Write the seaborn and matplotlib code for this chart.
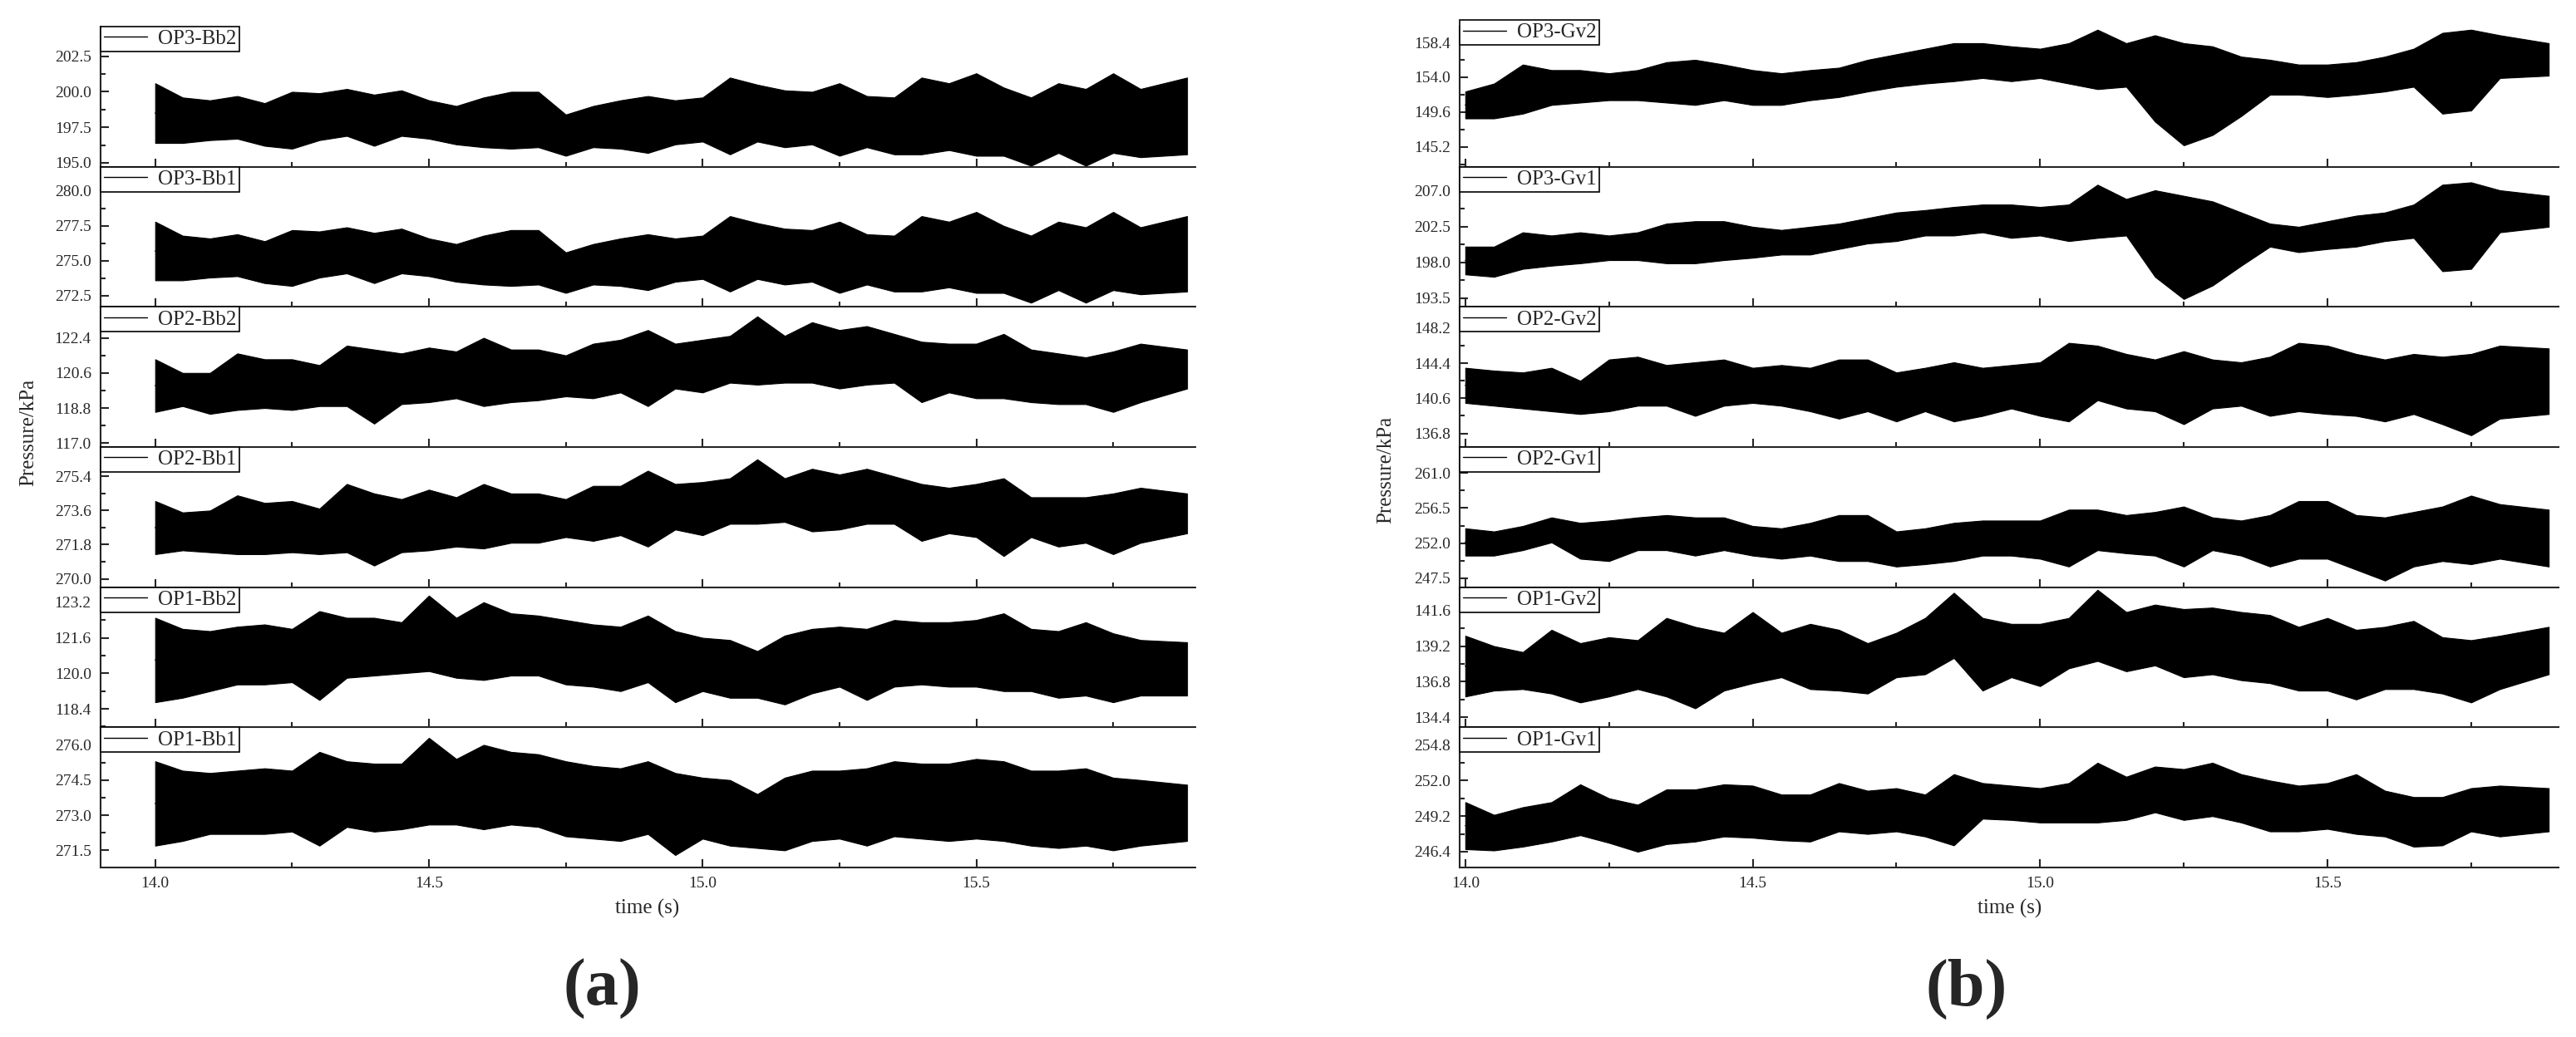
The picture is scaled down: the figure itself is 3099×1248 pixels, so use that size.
import numpy as np
import pandas as pd
import matplotlib
matplotlib.use("Agg")
import matplotlib.pyplot as plt
import seaborn as sns
from matplotlib.ticker import MultipleLocator, AutoMinorLocator, FormatStrFormatter

# times of the envelope readings (s)
time_s = np.append(np.round(np.arange(14.0, 15.81, 0.05), 2), 15.885)

# ---- panel (a): upper / lower envelope of each trace, kPa ----
op3_bb2_hi = [200.6, 199.6, 199.4, 199.7, 199.2, 200.0, 199.9, 200.2, 199.8, 200.1,
              199.4, 199.0, 199.6, 200.0, 200.0, 198.4, 199.0, 199.4, 199.7, 199.4,
              199.6, 201.0, 200.5, 200.1, 200.0, 200.6, 199.7, 199.6, 201.0, 200.6,
              201.3, 200.3, 199.6, 200.6, 200.2, 201.3, 200.2, 201.0]
op3_bb2_lo = [196.4, 196.4, 196.6, 196.7, 196.2, 196.0, 196.6, 196.9, 196.2, 196.9,
              196.7, 196.3, 196.1, 196.0, 196.1, 195.5, 196.1, 196.0, 195.7, 196.3,
              196.5, 195.6, 196.5, 196.1, 196.3, 195.5, 196.1, 195.6, 195.6, 195.9,
              195.5, 195.5, 194.8, 195.7, 194.8, 195.7, 195.4, 195.6]
op3_bb1_hi = [277.8, 276.8, 276.6, 276.9, 276.4, 277.2, 277.1, 277.4, 277.0, 277.3,
              276.6, 276.2, 276.8, 277.2, 277.2, 275.6, 276.2, 276.6, 276.9, 276.6,
              276.8, 278.2, 277.7, 277.3, 277.2, 277.8, 276.9, 276.8, 278.2, 277.8,
              278.5, 277.5, 276.8, 277.8, 277.4, 278.5, 277.4, 278.2]
op3_bb1_lo = [273.6, 273.6, 273.8, 273.9, 273.4, 273.2, 273.8, 274.1, 273.4, 274.1,
              273.9, 273.5, 273.3, 273.2, 273.3, 272.7, 273.3, 273.2, 272.9, 273.5,
              273.7, 272.8, 273.7, 273.3, 273.5, 272.7, 273.3, 272.8, 272.8, 273.1,
              272.7, 272.7, 272.0, 272.9, 272.0, 272.9, 272.6, 272.8]
op2_bb2_hi = [121.3, 120.6, 120.6, 121.6, 121.3, 121.3, 121.0, 122.0, 121.8, 121.6,
              121.9, 121.7, 122.4, 121.8, 121.8, 121.5, 122.1, 122.3, 122.8, 122.1,
              122.3, 122.5, 123.5, 122.5, 123.2, 122.8, 123.0, 122.6, 122.2, 122.1,
              122.1, 122.6, 121.8, 121.6, 121.4, 121.7, 122.1, 121.8]
op2_bb2_lo = [118.6, 118.9, 118.5, 118.7, 118.8, 118.7, 118.9, 118.9, 118.0, 119.0,
              119.1, 119.3, 118.9, 119.1, 119.2, 119.4, 119.3, 119.6, 118.9, 119.8,
              119.6, 120.1, 120.0, 120.1, 120.1, 119.8, 120.0, 120.1, 119.1, 119.6,
              119.3, 119.3, 119.1, 119.0, 119.0, 118.6, 119.1, 119.8]
op2_bb1_hi = [274.1, 273.5, 273.6, 274.4, 274.0, 274.1, 273.7, 275.0, 274.5, 274.2,
              274.7, 274.3, 275.0, 274.5, 274.5, 274.2, 274.9, 274.9, 275.7, 275.0,
              275.1, 275.3, 276.3, 275.3, 275.8, 275.5, 275.8, 275.4, 275.0, 274.8,
              275.0, 275.3, 274.3, 274.3, 274.3, 274.5, 274.8, 274.5]
op2_bb1_lo = [271.3, 271.5, 271.4, 271.3, 271.3, 271.4, 271.3, 271.4, 270.7, 271.4,
              271.5, 271.7, 271.6, 271.9, 271.9, 272.2, 272.0, 272.3, 271.7, 272.6,
              272.3, 272.9, 272.9, 273.0, 272.5, 272.6, 272.9, 272.9, 272.0, 272.4,
              272.2, 271.2, 272.2, 271.7, 271.9, 271.3, 271.9, 272.4]
op1_bb2_hi = [122.5, 122.0, 121.9, 122.1, 122.2, 122.0, 122.8, 122.5, 122.5, 122.3,
              123.5, 122.5, 123.2, 122.7, 122.6, 122.4, 122.2, 122.1, 122.6, 121.9,
              121.6, 121.5, 121.0, 121.7, 122.0, 122.1, 122.0, 122.4, 122.3, 122.3,
              122.4, 122.7, 122.0, 121.9, 122.3, 121.8, 121.5, 121.4]
op1_bb2_lo = [118.7, 118.9, 119.2, 119.5, 119.5, 119.6, 118.8, 119.8, 119.9, 120.0,
              120.1, 119.8, 119.7, 119.9, 119.9, 119.5, 119.4, 119.2, 119.6, 118.7,
              119.2, 118.9, 118.9, 118.6, 119.1, 119.4, 118.8, 119.4, 119.5, 119.4,
              119.4, 119.2, 119.2, 118.9, 119.0, 118.7, 119.0, 119.0]
op1_bb1_hi = [275.3, 274.9, 274.8, 274.9, 275.0, 274.9, 275.7, 275.3, 275.2, 275.2,
              276.3, 275.4, 276.0, 275.7, 275.6, 275.3, 275.1, 275.0, 275.3, 274.8,
              274.6, 274.5, 273.9, 274.6, 274.9, 274.9, 275.0, 275.3, 275.2, 275.2,
              275.4, 275.3, 274.9, 274.9, 275.0, 274.6, 274.5, 274.3]
op1_bb1_lo = [271.7, 271.9, 272.2, 272.2, 272.2, 272.3, 271.7, 272.5, 272.3, 272.4,
              272.6, 272.6, 272.4, 272.6, 272.5, 272.1, 272.0, 271.9, 272.2, 271.3,
              272.0, 271.7, 271.6, 271.5, 271.9, 272.0, 271.7, 272.1, 272.0, 271.9,
              272.0, 271.9, 271.7, 271.6, 271.7, 271.5, 271.7, 271.9]

# ---- panel (b) ----
op3_gv2_hi = [152.2, 153.2, 155.6, 154.9, 154.9, 154.5, 154.9, 155.9, 156.2, 155.6,
              154.9, 154.5, 154.9, 155.2, 156.2, 156.9, 157.6, 158.3, 158.3, 157.9,
              157.6, 158.3, 160.0, 158.3, 159.3, 158.3, 157.9, 156.6, 156.2, 155.6,
              155.6, 155.9, 156.6, 157.6, 159.6, 160.0, 159.3, 158.3]
op3_gv2_lo = [148.8, 148.8, 149.4, 150.5, 150.8, 151.1, 151.1, 150.8, 150.5, 151.1,
              150.5, 150.5, 151.1, 151.5, 152.2, 152.8, 153.2, 153.5, 153.9, 153.5,
              153.9, 153.2, 152.5, 152.8, 148.4, 145.4, 146.7, 149.1, 151.8, 151.8,
              151.5, 151.8, 152.2, 152.8, 149.4, 149.8, 153.9, 154.2]
op3_gv1_hi = [200.0, 200.0, 201.8, 201.4, 201.8, 201.4, 201.8, 202.9, 203.2, 203.2,
              202.5, 202.1, 202.5, 202.9, 203.6, 204.3, 204.6, 205.0, 205.3, 205.3,
              205.0, 205.3, 207.8, 206.0, 207.1, 206.4, 205.7, 204.3, 202.9, 202.5,
              203.2, 203.9, 204.3, 205.3, 207.8, 208.1, 207.1, 206.4]
op3_gv1_lo = [196.5, 196.2, 197.2, 197.6, 197.9, 198.3, 198.3, 197.9, 197.9, 198.3,
              198.6, 199.0, 199.0, 199.7, 200.4, 200.7, 201.4, 201.4, 201.8, 201.1,
              201.4, 200.7, 201.1, 201.4, 196.2, 193.4, 195.1, 197.6, 200.0, 199.3,
              199.7, 200.0, 200.7, 201.1, 196.9, 197.2, 201.8, 202.5]
op2_gv2_hi = [143.9, 143.6, 143.4, 143.9, 142.5, 144.8, 145.1, 144.2, 144.5, 144.8,
              143.9, 144.2, 143.9, 144.8, 144.8, 143.4, 143.9, 144.5, 143.9, 144.2,
              144.5, 146.6, 146.3, 145.4, 144.8, 145.7, 144.8, 144.5, 145.1, 146.6,
              146.3, 145.4, 144.8, 145.4, 145.1, 145.4, 146.3, 146.0]
op2_gv2_lo = [140.1, 139.8, 139.5, 139.2, 138.9, 139.2, 139.8, 139.8, 138.7, 139.8,
              140.1, 139.8, 139.2, 138.4, 139.2, 138.1, 139.2, 138.1, 138.7, 139.5,
              138.7, 138.1, 140.4, 139.5, 139.2, 137.8, 139.5, 139.8, 138.7, 139.2,
              138.9, 138.7, 138.1, 138.9, 137.8, 136.6, 138.4, 138.9]
op2_gv1_hi = [253.9, 253.5, 254.2, 255.3, 254.6, 254.9, 255.3, 255.6, 255.3, 255.3,
              254.2, 253.9, 254.6, 255.6, 255.6, 253.5, 253.9, 254.6, 254.9, 254.9,
              254.9, 256.3, 256.3, 255.6, 256.0, 256.7, 255.3, 254.9, 255.6, 257.4,
              257.4, 255.6, 255.3, 256.0, 256.7, 258.1, 257.0, 256.3]
op2_gv1_lo = [250.4, 250.4, 251.1, 252.1, 250.0, 249.7, 251.1, 251.1, 250.4, 251.1,
              250.4, 250.0, 250.4, 249.7, 249.7, 249.0, 249.3, 249.7, 250.4, 250.4,
              250.0, 249.0, 251.1, 250.7, 250.4, 249.0, 251.1, 250.4, 249.0, 250.0,
              250.0, 248.6, 247.2, 249.0, 249.7, 249.3, 250.0, 249.0]
op1_gv2_hi = [139.9, 139.2, 138.8, 140.3, 139.4, 139.8, 139.6, 141.1, 140.5, 140.1,
              141.5, 140.1, 140.7, 140.3, 139.4, 140.1, 141.1, 142.8, 141.1, 140.7,
              140.7, 141.1, 143.0, 141.5, 142.0, 141.7, 141.8, 141.5, 141.3, 140.5,
              141.1, 140.3, 140.5, 140.9, 139.8, 139.6, 139.9, 140.5]
op1_gv2_lo = [135.8, 136.2, 136.3, 136.0, 135.4, 135.8, 136.3, 135.8, 135.0, 136.2,
              136.7, 137.1, 136.3, 136.2, 136.0, 137.1, 137.3, 138.4, 136.2, 137.1,
              136.5, 137.7, 138.2, 137.5, 137.9, 137.1, 137.3, 136.9, 136.7, 136.2,
              136.2, 135.6, 136.3, 136.3, 136.0, 135.4, 136.3, 137.3]
op1_gv1_hi = [250.3, 249.3, 249.9, 250.3, 251.7, 250.6, 250.1, 251.3, 251.3, 251.7,
              251.6, 250.9, 250.9, 251.8, 251.2, 251.4, 250.9, 252.5, 251.8, 251.6,
              251.4, 251.8, 253.4, 252.3, 253.1, 252.9, 253.4, 252.5, 252.0, 251.6,
              251.8, 252.5, 251.2, 250.7, 250.7, 251.4, 251.6, 251.4]
op1_gv1_lo = [246.6, 246.5, 246.8, 247.2, 247.7, 247.1, 246.4, 247.0, 247.2, 247.6,
              247.5, 247.3, 247.2, 248.0, 247.8, 248.0, 247.6, 246.9, 249.0, 248.9,
              248.7, 248.7, 248.7, 248.9, 249.5, 248.9, 249.2, 248.7, 248.0, 248.0,
              248.2, 247.8, 247.6, 246.8, 246.9, 248.0, 247.6, 248.0]

names_a = ["OP3-Bb2", "OP3-Bb1", "OP2-Bb2", "OP2-Bb1", "OP1-Bb2", "OP1-Bb1"]
names_b = ["OP3-Gv2", "OP3-Gv1", "OP2-Gv2", "OP2-Gv1", "OP1-Gv2", "OP1-Gv1"]
ticks_a = [[195.0, 197.5, 200.0, 202.5], [272.5, 275.0, 277.5, 280.0],
           [117.0, 118.8, 120.6, 122.4], [270.0, 271.8, 273.6, 275.4],
           [118.4, 120.0, 121.6, 123.2], [271.5, 273.0, 274.5, 276.0]]
ticks_b = [[145.2, 149.6, 154.0, 158.4], [193.5, 198.0, 202.5, 207.0],
           [136.8, 140.6, 144.4, 148.2], [247.5, 252.0, 256.5, 261.0],
           [134.4, 136.8, 139.2, 141.6], [246.4, 249.2, 252.0, 254.8]]
ylim_a = [(194.73, 204.59), (271.70, 281.74), (116.80, 123.99),
          (269.56, 276.95), (117.57, 123.88), (270.77, 276.75)]
ylim_b = [(142.70, 160.40), (192.41, 210.07), (135.33, 150.50),
          (246.35, 264.34), (133.72, 143.18), (245.16, 256.19)]

hi_a = [op3_bb2_hi, op3_bb1_hi, op2_bb2_hi, op2_bb1_hi, op1_bb2_hi, op1_bb1_hi]
lo_a = [op3_bb2_lo, op3_bb1_lo, op2_bb2_lo, op2_bb1_lo, op1_bb2_lo, op1_bb1_lo]
hi_b = [op3_gv2_hi, op3_gv1_hi, op2_gv2_hi, op2_gv1_hi, op1_gv2_hi, op1_gv1_hi]
lo_b = [op3_gv2_lo, op3_gv1_lo, op2_gv2_lo, op2_gv1_lo, op1_gv2_lo, op1_gv1_lo]

sns.set_style("ticks")
plt.rcParams['font.family'] = ['Liberation Serif', 'DejaVu Serif']

fig = plt.figure(figsize=(30.99, 12.48), dpi=100)

top, bottom = 0.9744, 0.1635
row_h = (top - bottom) / 6

panels = [
    (0.0390, 0.4250, (13.9, 15.9), names_a, hi_a, lo_a, ticks_a, ylim_a),
    (0.5666, 0.4266, (13.99, 15.902), names_b, hi_b, lo_b, ticks_b, ylim_b),
]

for p, (left, width, xlim, names, his, los, ticks, ylims) in enumerate(panels):
    for r in range(6):
        ax = fig.add_axes([left, top - (r + 1) * row_h, width, row_h])
        df = pd.DataFrame({
            "time": np.concatenate([time_s, time_s]),
            "pressure": np.concatenate([his[r], los[r]]),
        })
        # band between the lower and upper readings at each time
        sns.lineplot(data=df, x="time", y="pressure", estimator="mean",
                     errorbar=("pi", 100), color="black", lw=1.0,
                     err_kws={"alpha": 1, "edgecolor": "black", "linewidth": 0.8},
                     ax=ax, legend=False)
        ax.set_xlim(*xlim)
        ax.set_ylim(*ylims[r])
        ax.set_yticks(ticks[r])
        ax.yaxis.set_major_formatter(FormatStrFormatter("%.1f"))
        ax.yaxis.set_minor_locator(AutoMinorLocator(2))
        ax.xaxis.set_major_locator(MultipleLocator(0.5))
        ax.xaxis.set_minor_locator(MultipleLocator(0.25))
        ax.xaxis.set_major_formatter(FormatStrFormatter("%.1f"))
        ax.set_xlabel("")
        ax.set_ylabel("")
        for s in ["top", "right"]:
            ax.spines[s].set_visible(False)
        for s in ["left", "bottom"]:
            ax.spines[s].set_linewidth(1.5)
        ax.tick_params(which="major", direction="in", length=7.5, width=1.5,
                       labelsize=14, pad=8, top=False, right=False)
        ax.tick_params(which="minor", direction="in", length=4.5, width=1.5,
                       top=False, right=False)
        if r < 5:
            ax.tick_params(labelbottom=False)
        ax.patch.set_alpha(0)

        dy = 0.047 if (p == 1 and r == 0) else 0.0
        leg = ax.legend(handles=[ax.lines[0]], labels=[names[r]], loc="upper left",
                        bbox_to_anchor=(0, 1 + dy), borderaxespad=0, fontsize=18,
                        frameon=True, fancybox=False, framealpha=1, edgecolor="black",
                        handlelength=2.1, handletextpad=0.5, borderpad=0.15)
        leg.get_frame().set_linewidth(1.2)

fig.text(0.2514, 0.1242, "time (s)", ha="center", va="center", fontsize=18)
fig.text(0.7800, 0.1242, "time (s)", ha="center", va="center", fontsize=18)
fig.text(0.011, 0.583, "Pressure/kPa", rotation=90, ha="center", va="center", fontsize=18)
fig.text(0.538, 0.547, "Pressure/kPa", rotation=90, ha="center", va="center", fontsize=18)
fig.text(0.2337, 0.0465, "(a)", ha="center", va="center", fontsize=58, fontweight="bold")
fig.text(0.7634, 0.0465, "(b)", ha="center", va="center", fontsize=58, fontweight="bold")

fig.savefig("out.png", dpi=100, facecolor="white")
